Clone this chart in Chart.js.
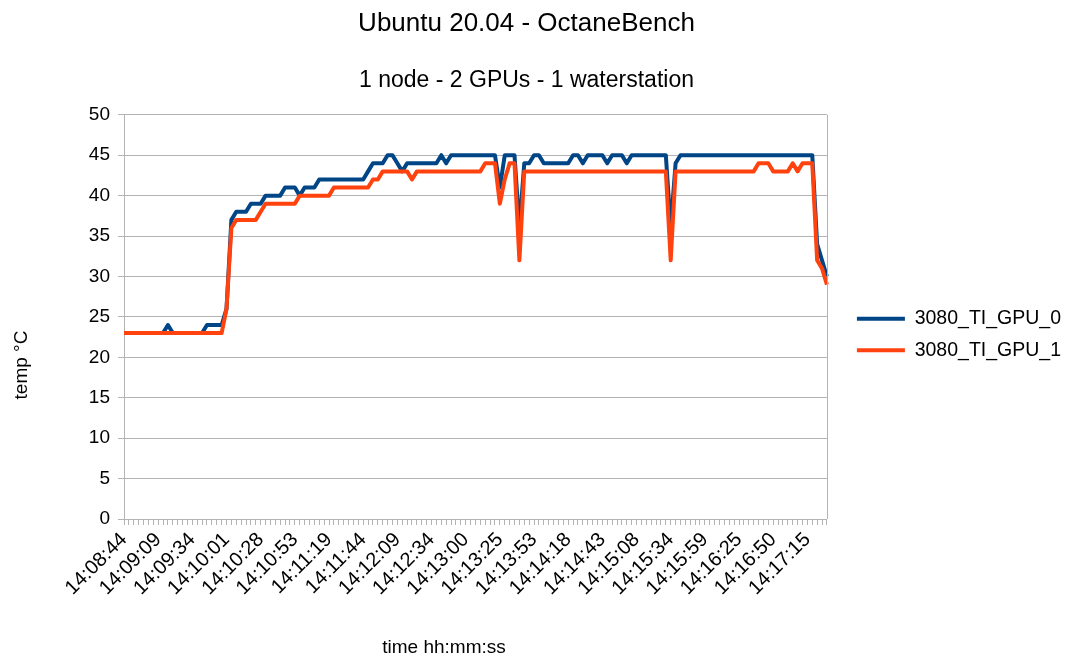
<!DOCTYPE html>
<html>
<head>
<meta charset="utf-8">
<script src="https://cdn.jsdelivr.net/npm/chart.js@4/dist/chart.umd.min.js"></script>
<style>
  html, body { margin: 0; padding: 0; background: #ffffff; }
  #wrap { width: 1067px; height: 661px; position: relative; }
</style>
</head>
<body>
<div id="wrap"><canvas id="c" width="1067" height="661"></canvas></div>
<script>
// ---- data ----
const chartTitle = 'Ubuntu 20.04 - OctaneBench';
const chartSubtitle = '1 node - 2 GPUs - 1 waterstation';
const xTitle = 'time hh:mm:ss';
const yTitle = 'temp °C';
const seriesNames = ['3080_TI_GPU_0', '3080_TI_GPU_1'];

// labels shown on the x axis (one every 7 samples)
const tickLabels = ['14:08:44','14:09:09','14:09:34','14:10:01','14:10:28','14:10:53','14:11:19',
  '14:11:44','14:12:09','14:12:34','14:13:00','14:13:25','14:13:53','14:14:18','14:14:43',
  '14:15:08','14:15:34','14:15:59','14:16:25','14:16:50','14:17:15'];
const labelStep = 7;

const gpu0 = [23,23,23,23,23,23,23,23,23,24, 23,23,23,23,23,23,23,24,24,24,
  24,26,37,38,38,38,39,39,39,40, 40,40,40,41,41,41,40,41,41,41,
  42,42,42,42,42,42,42,42,42,42, 43,44,44,44,45,45,44,43,44,44,
  44,44,44,44,44,45,44,45,45,45, 45,45,45,45,45,45,45,41,45,45,
  45,36,44,44,45,45,44,44,44,44, 44,44,45,45,44,45,45,45,45,44,
  45,45,45,44,45,45,45,45,45,45, 45,45,36,44,45,45,45,45,45,45,
  45,45,45,45,45,45,45,45,45,45, 45,45,45,45,45,45,45,45,45,45,
  45,45,34,32,30];

const gpu1 = [23,23,23,23,23,23,23,23,23,23, 23,23,23,23,23,23,23,23,23,23,
  23,26,36,37,37,37,37,37,38,39, 39,39,39,39,39,39,40,40,40,40,
  40,40,40,41,41,41,41,41,41,41, 41,42,42,43,43,43,43,43,43,42,
  43,43,43,43,43,43,43,43,43,43, 43,43,43,43,44,44,44,39,42,44,
  44,32,43,43,43,43,43,43,43,43, 43,43,43,43,43,43,43,43,43,43,
  43,43,43,43,43,43,43,43,43,43, 43,43,32,43,43,43,43,43,43,43,
  43,43,43,43,43,43,43,43,43,43, 44,44,44,43,43,43,43,44,43,44,
  44,44,32,31,29];

const categories = gpu0.map((_, i) => (i % labelStep === 0 ? (tickLabels[i / labelStep] || '') : ''));

// ---- styling ----
const FONT = '"Liberation Sans", Arial, sans-serif';
const GRID = '#b3b3b3';
Chart.defaults.font.family = FONT;
Chart.defaults.color = '#000000';

const decor = {
  id: 'decor',
  afterLayout(chart) {
    // leave a gap between the plot frame and the legend
    const lg = chart.legend;
    if (lg) { lg.left += 18; lg.right += 18; lg.top += 4; lg.bottom += 4; }
  },
  afterDraw(chart) {
    const ctx = chart.ctx;
    const a = chart.chartArea;
    ctx.save();
    // right frame line of the plot
    ctx.strokeStyle = GRID;
    ctx.lineWidth = 1;
    ctx.beginPath();
    const xr = Math.round(a.right) + 0.5;
    ctx.moveTo(xr, a.top);
    ctx.lineTo(xr, a.bottom);
    ctx.stroke();
    // axis titles
    ctx.fillStyle = '#000000';
    ctx.font = '19px ' + FONT;
    ctx.textAlign = 'center';
    ctx.textBaseline = 'middle';
    ctx.fillText(xTitle, 444, 648);
    ctx.translate(22, 365);
    ctx.rotate(-Math.PI / 2);
    ctx.fillText(yTitle, 0, 0);
    ctx.restore();
  }
};

new Chart(document.getElementById('c'), {
  type: 'line',
  data: {
    labels: categories,
    datasets: [
      { label: seriesNames[0], data: gpu0, borderColor: '#004586', backgroundColor: '#004586',
        borderWidth: 4, pointRadius: 0, tension: 0, borderJoinStyle: 'round', order: 1 },
      { label: seriesNames[1], data: gpu1, borderColor: '#ff420e', backgroundColor: '#ff420e',
        borderWidth: 4, pointRadius: 0, tension: 0, borderJoinStyle: 'round', order: 0 }
    ]
  },
  options: {
    responsive: false,
    animation: false,
    devicePixelRatio: 1,
    layout: { padding: { left: 0, right: 14, top: 0, bottom: 0 } },
    plugins: {
      title: { display: true, text: chartTitle, color: '#000',
        font: { size: 26, weight: 'normal', family: FONT }, padding: { top: 8, bottom: 10 } },
      subtitle: { display: true, text: chartSubtitle, color: '#000',
        font: { size: 23, weight: 'normal', family: FONT }, padding: { top: 18, bottom: 20 } },
      legend: {
        position: 'right',
        labels: {
          usePointStyle: true, pointStyle: 'line', pointStyleWidth: 48,
          font: { size: 19.5, family: FONT }, color: '#000', padding: 12,
          sort: (a, b) => a.datasetIndex - b.datasetIndex
        }
      },
      tooltip: { enabled: false }
    },
    scales: {
      x: {
        type: 'category',
        ticks: { autoSkip: false, maxRotation: 45, minRotation: 45, padding: 3,
          font: { size: 20, family: FONT }, color: '#000' },
        grid: { drawOnChartArea: false, drawTicks: true, tickLength: 6, color: GRID, lineWidth: 1 },
        border: { display: true, color: GRID, width: 1 },
        afterFit: (s) => { s.height = 142; }
      },
      y: {
        min: 0, max: 50,
        ticks: { stepSize: 5, padding: 8, font: { size: 19, family: FONT }, color: '#000' },
        grid: { color: GRID, lineWidth: 1, drawTicks: true, tickLength: 6 },
        border: { display: true, color: GRID, width: 1 },
        afterFit: (s) => { s.width = 124; }
      }
    }
  },
  plugins: [decor]
});
</script>
</body>
</html>
